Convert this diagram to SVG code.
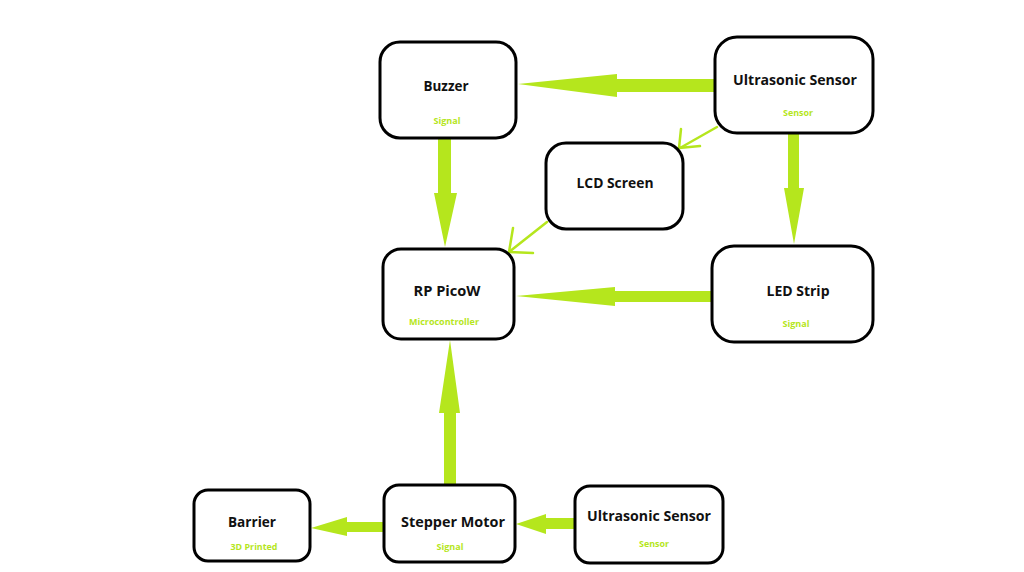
<svg xmlns="http://www.w3.org/2000/svg" width="1024" height="572" viewBox="0 0 1024 572">
<style>
.box{fill:#fff;stroke:#000;stroke-width:3}
.t{font-family:"Open Sans","Noto Sans",sans-serif;font-weight:700;font-size:15px;fill:#111;text-anchor:middle}
.s{font-family:"Open Sans","Noto Sans",sans-serif;font-weight:700;font-size:9.5px;fill:#b5e61d;text-anchor:middle}
.g{fill:#b5e61d;stroke:none}
.th{fill:none;stroke:#b5e61d;stroke-width:2.5;stroke-linecap:round;stroke-linejoin:round}
</style>
<rect width="1024" height="572" fill="#fff"/>
<g id="connectors">
<!-- Ultrasonic -> Buzzer -->
<polygon class="g" points="716,79 617,79 617,74 518,84 617,97 617,92 716,92"/>
<!-- Buzzer -> PicoW -->
<polygon class="g" points="438,139 451,139 451,193 457,193 445,247 434,193 438,193"/>
<!-- Ultrasonic -> LED -->
<polygon class="g" points="788,133 799,133 799,188 804,188 794,244 784,188 788,188"/>
<!-- LED -> PicoW -->
<polygon class="g" points="713,291 615,291 615,287 516,296 615,306 615,302 713,302"/>
<!-- Stepper -> PicoW -->
<polygon class="g" points="444,486 456,486 456,413 460,413 450,340 439,413 444,413"/>
<!-- Stepper -> Barrier -->
<polygon class="g" points="385,522 347,522 347,517 311,528 347,536 347,532 385,532"/>
<!-- Ultrasonic bottom -> Stepper -->
<polygon class="g" points="576,518 546,518 546,514 516,524 546,534 546,529 576,529"/>
<!-- Ultrasonic -> LCD (thin) -->
<line class="th" x1="717" y1="127" x2="680" y2="148"/>
<polyline class="th" points="681,129 679,148 700,146"/>
<!-- LCD -> PicoW (thin) -->
<line class="th" x1="547" y1="222" x2="509" y2="252"/>
<polyline class="th" points="513,228 509,252 533,253"/>
</g>
<g id="buzzer">
<rect class="box" x="380" y="42" width="136" height="96" rx="20"/>
<text class="t" x="446" y="91" textLength="45" lengthAdjust="spacingAndGlyphs">Buzzer</text>
<text class="s" x="447" y="124" textLength="27" lengthAdjust="spacingAndGlyphs">Signal</text>
</g>
<g id="ultrasonic-top">
<rect class="box" x="715" y="37" width="158" height="96" rx="22"/>
<text class="t" x="795" y="85" textLength="124" lengthAdjust="spacingAndGlyphs">Ultrasonic Sensor</text>
<text class="s" x="798" y="116" textLength="30" lengthAdjust="spacingAndGlyphs">Sensor</text>
</g>
<g id="lcd">
<rect class="box" x="546" y="143" width="137" height="86" rx="20"/>
<text class="t" x="615" y="188" textLength="77" lengthAdjust="spacingAndGlyphs">LCD Screen</text>
</g>
<g id="picow">
<rect class="box" x="383" y="249" width="131" height="90" rx="18"/>
<text class="t" x="447" y="296" textLength="67" lengthAdjust="spacingAndGlyphs">RP PicoW</text>
<text class="s" x="444" y="325" textLength="70" lengthAdjust="spacingAndGlyphs">Microcontroller</text>
</g>
<g id="led">
<rect class="box" x="712" y="246" width="161" height="96" rx="22"/>
<text class="t" x="798" y="296" textLength="63" lengthAdjust="spacingAndGlyphs">LED Strip</text>
<text class="s" x="796" y="327" textLength="27" lengthAdjust="spacingAndGlyphs">Signal</text>
</g>
<g id="barrier">
<rect class="box" x="194" y="490" width="116" height="71" rx="14"/>
<text class="t" x="252" y="527" textLength="48" lengthAdjust="spacingAndGlyphs">Barrier</text>
<text class="s" x="254" y="550" textLength="47" lengthAdjust="spacingAndGlyphs">3D Printed</text>
</g>
<g id="stepper">
<rect class="box" x="384" y="485" width="131" height="77" rx="15"/>
<text class="t" x="453" y="527" textLength="104" lengthAdjust="spacingAndGlyphs">Stepper Motor</text>
<text class="s" x="450" y="550" textLength="27" lengthAdjust="spacingAndGlyphs">Signal</text>
</g>
<g id="ultrasonic-bottom">
<rect class="box" x="575" y="486" width="148" height="77" rx="15"/>
<text class="t" x="649" y="521" textLength="124" lengthAdjust="spacingAndGlyphs">Ultrasonic Sensor</text>
<text class="s" x="654" y="547" textLength="30" lengthAdjust="spacingAndGlyphs">Sensor</text>
</g>
</svg>
